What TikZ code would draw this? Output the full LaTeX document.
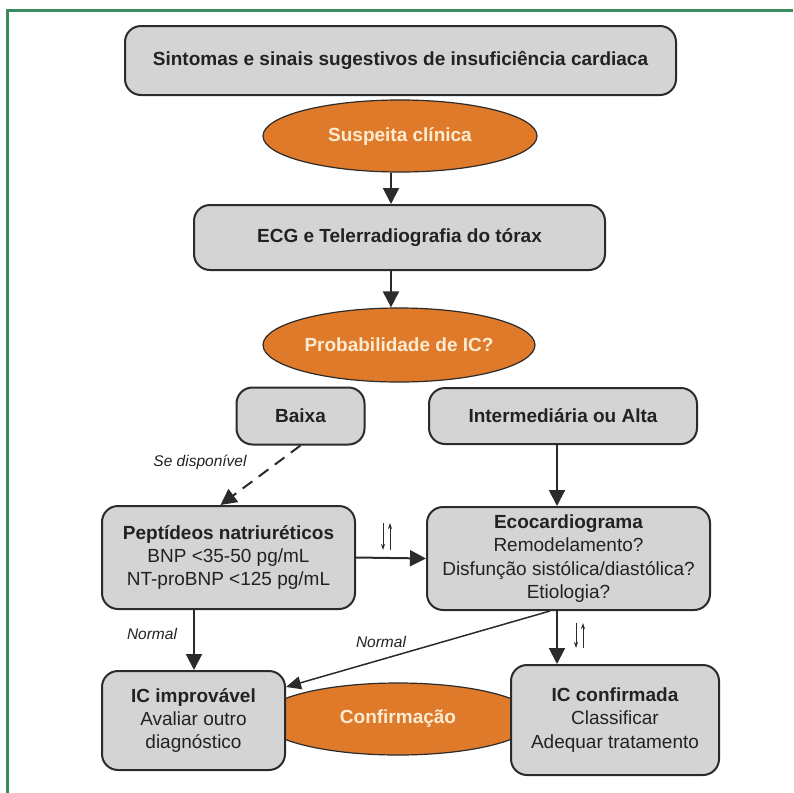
\documentclass[tikz,border=0pt]{standalone}
\usepackage{fontspec}
\setmainfont{Liberation Sans}
\usetikzlibrary{shapes.geometric,arrows.meta}
\definecolor{framegreen}{HTML}{3A8B5F}
\definecolor{boxfill}{HTML}{D4D4D4}
\definecolor{boxline}{HTML}{2B2B2B}
\definecolor{ovalfill}{HTML}{E07A2B}
\definecolor{ovaltext}{HTML}{FDEBD2}
\definecolor{ink}{HTML}{222222}

\begin{document}
\begin{tikzpicture}[x=1pt,y=-1pt,
  box/.style={draw=boxline, line width=2pt, fill=boxfill, rounded corners=16pt,
    align=center, text=ink, inner sep=0pt,
    font=\fontsize{19}{23.3}\selectfont},
  head/.style={box, font=\fontsize{19}{23.3}\selectfont\bfseries},
  oval/.style={ellipse, draw=boxline, line width=1.2pt, fill=ovalfill,
    text=ovaltext, inner sep=0pt, font=\fontsize{19}{22}\selectfont\bfseries},
  arr/.style={line width=2pt, draw=boxline, -{Triangle[length=16pt,width=16pt]}},
  dasharr/.style={arr, dash pattern=on 12pt off 8pt},
  thinarr/.style={line width=1.5pt, draw=boxline, -{Triangle[length=15pt,width=13pt]}},
  swap/.style={line width=1pt, draw=boxline, -{Stealth[length=6pt,width=4pt]}},
  note/.style={font=\fontsize{15.5}{18}\selectfont\itshape, text=ink}
]
\useasboundingbox (0,0) rectangle (793,793);
\fill[white] (0,0) rectangle (793,793);

% frame
\draw[framegreen, line width=3pt] (7.5,793) -- (7.5,10) -- (793,10);

% column positions of the vertical connectors
\coordinate (xa) at (391,0);
\coordinate (xl) at (194,0);
\coordinate (xr) at (557,0);
\coordinate (xn) at (550,0);

% nodes
\node[head, minimum width=551pt, minimum height=69pt]
  (top) at (400.5,60.5) {Sintomas e sinais sugestivos de insuficiência cardiaca};
\node[oval, minimum width=274pt, minimum height=72pt] (susp) at (400,136) {Suspeita clínica};
\node[head, minimum width=411pt, minimum height=65pt]
  (ecg) at (399.5,237.5) {ECG e Telerradiografia do tórax};
\node[oval, minimum width=272pt, minimum height=74pt] (prob) at (399,345) {Probabilidade de IC?};
\node[head, minimum width=128pt, minimum height=57pt]
  (baixa) at (300.5,416) {Baixa};
\node[head, minimum width=268pt, minimum height=56pt]
  (inter) at (563,416) {Intermediária ou Alta};
\node[box, minimum width=253pt, minimum height=103pt] (pep) at (228.5,557.5)
  {{\bfseries Peptídeos natriuréticos}\\BNP <35-50 pg/mL\\NT-proBNP <125 pg/mL};
\node[box, minimum width=283pt, minimum height=103pt] (eco) at (568.5,558.5)
  {{\bfseries Ecocardiograma}\\Remodelamento?\\Disfunção sistólica/diastólica?\\Etiologia?};

\node[oval, minimum width=274pt, minimum height=72pt] (confirm) at (398,719) {Confirmação};
\node[box, minimum width=183pt, minimum height=99pt] (imp) at (193.5,720.5)
  {{\bfseries IC improvável}\\Avaliar outro\\diagnóstico};
\node[box, minimum width=208pt, minimum height=110pt] (conf) at (615,720)
  {{\bfseries IC confirmada}\\Classificar\\Adequar tratamento};

% connectors
\draw[arr] (susp.south -| xa) -- (ecg.north -| xa);
\draw[arr] (ecg.south -| xa) -- (prob.north -| xa);
\draw[dasharr] (baixa.south) -- ([xshift=-8pt]pep.north);
\draw[arr] (inter.south -| xr) -- (eco.north -| xr);
\draw[arr] (pep.east) -- (eco.west);
\draw[arr] (pep.south -| xl) -- (imp.north -| xl);
\draw[arr] (eco.south -| xr) -- (conf.north -| xr);
\draw[thinarr] (eco.south -| xn) -- ([yshift=-17pt]imp.north east);

% labels
\node[note] (lbl1) at (200,462) {Se disponível};
\node[note] (lbl2) at (152,634) {Normal};
\node[note] (lbl3) at (381,642) {Normal};

% two-way markers
\draw[swap] (383,523) -- (383,550);
\draw[swap] (390,550) -- (390,523);
\draw[swap] (576,623) -- (576,648);
\draw[swap] (583,648) -- (583,623);
\end{tikzpicture}
\end{document}
